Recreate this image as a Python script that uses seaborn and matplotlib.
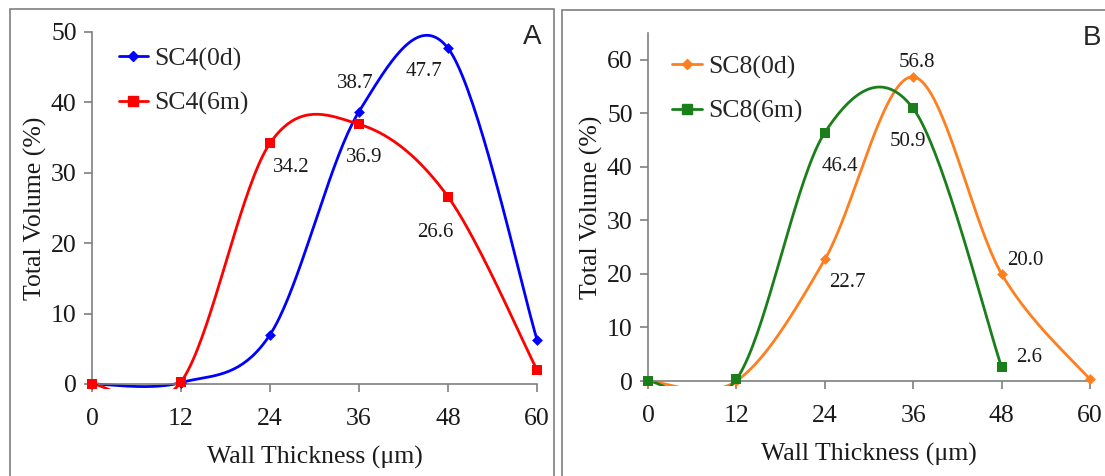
#!/usr/bin/env python
import numpy as np
import pandas as pd
import matplotlib
matplotlib.use("Agg")
import matplotlib.pyplot as plt
from matplotlib.lines import Line2D
from matplotlib.patches import Rectangle
import seaborn as sns

# wall thickness classes (um) and total volume (%)
thickness = [0, 12, 24, 36, 48, 60]
sc4_0d = [0.0, 0.2, 7.0, 38.7, 47.7, 6.3]
sc4_6m = [0.0, 0.3, 34.2, 36.9, 26.6, 2.0]
sc8_0d = [0.0, 0.0, 22.7, 56.8, 20.0, 0.3]
sc8_6m = [0.0, 0.3, 46.4, 50.9, 2.6]

# which points carry a value label, and pixel offsets for them
labels_a = {"SC4(0d)": {36: (-4, 28), 48: (-24, -23)},
            "SC4(6m)": {24: (21, -24), 36: (5, -33), 48: (-13, -36)}}
labels_b = {"SC8(0d)": {36: (4, 14), 24: (23, -23), 48: (24, 13)},
            "SC8(6m)": {24: (15, -34), 36: (-5, -33), 48: (28, 10)}}


def smooth(x, y, n=40):
    # excel style smoothed line (catmull-rom through the points)
    x = np.asarray(x, float)
    y = np.asarray(y, float)
    px = np.concatenate([[x[0]], x, [x[-1]]])
    py = np.concatenate([[y[0]], y, [y[-1]]])
    xs, ys = [], []
    t = np.linspace(0, 1, n)
    h00 = 2 * t**3 - 3 * t**2 + 1
    h10 = t**3 - 2 * t**2 + t
    h01 = -2 * t**3 + 3 * t**2
    h11 = t**3 - t**2
    for i in range(1, len(px) - 2):
        mx0 = (px[i + 1] - px[i - 1]) / 2
        mx1 = (px[i + 2] - px[i]) / 2
        my0 = (py[i + 1] - py[i - 1]) / 2
        my1 = (py[i + 2] - py[i]) / 2
        xs.append(h00 * px[i] + h10 * mx0 + h01 * px[i + 1] + h11 * mx1)
        ys.append(h00 * py[i] + h10 * my0 + h01 * py[i + 1] + h11 * my1)
    return np.concatenate(xs), np.concatenate(ys)


sns.set_style("white")
plt.rcParams["font.family"] = ["Liberation Serif", "DejaVu Serif"]

fig = plt.figure(figsize=(11.05, 4.76), dpi=100)

# panel frames
fig.patches.append(Rectangle((10 / 1105, -0.01), 544 / 1105, 1 - 9 / 476 + 0.01,
                             transform=fig.transFigure, fill=False,
                             edgecolor="#7f7f7f", lw=1.2))
fig.patches.append(Rectangle((562 / 1105, -0.01), 560 / 1105, 1 - 10 / 476 + 0.01,
                             transform=fig.transFigure, fill=False,
                             edgecolor="#7f7f7f", lw=1.2))

ax_a = fig.add_axes([92 / 1105, 1 - 384 / 476, 445 / 1105, 352 / 476])
ax_b = fig.add_axes([648 / 1105, 1 - 381 / 476, 442 / 1105, 348 / 476])

panels = [
    (ax_a, "A", 50, [("SC4(0d)", sc4_0d, "#0000ff", "D", 5.5),
                     ("SC4(6m)", sc4_6m, "#ff0000", "s", 7)], labels_a,
     (0.025, 1.0), (1.01, 0.985)),
    (ax_b, "B", 65, [("SC8(0d)", sc8_0d, "#ff7f1f", "D", 5.5),
                     ("SC8(6m)", sc8_6m, "#1a7f1a", "s", 6.5)], labels_b,
     (0.02, 0.98), (1.025, 0.985)),
]

for ax, letter, ymax, series, lab, leg_pos, let_pos in panels:
    handles = []
    # let the smoothed lines show a few pixels below the zero line
    clip = Rectangle((0, -0.013), 1.0, 1.013, transform=ax.transAxes,
                     visible=False)
    ax.add_patch(clip)
    for name, vals, color, marker, ms in series:
        x = thickness[:len(vals)]
        sx, sy = smooth(x, vals)
        ln, = ax.plot(sx, sy, color=color, lw=2)
        ln.set_clip_path(clip)
        df = pd.DataFrame({"x": x, "y": vals})
        sns.scatterplot(data=df, x="x", y="y", ax=ax, color=color, marker=marker,
                        s=ms**2, edgecolor=color, linewidth=0, clip_on=False,
                        zorder=5)
        for xv, (dx, dy) in lab[name].items():
            yv = vals[thickness.index(xv)]
            ax.annotate(f"{yv:.1f}", (xv, yv), xytext=(dx * 0.72, dy * 0.72),
                        textcoords="offset points", ha="center", va="center",
                        fontsize=15, color="#1a1a1a")
        handles.append(Line2D([], [], color=color, lw=2, marker=marker,
                              markersize=ms, label=name))
    ax.set_xlim(0, 60)
    ax.set_ylim(0, ymax)
    ax.set_xticks(thickness)
    ax.set_yticks(range(0, ymax + 1, 10))
    for s in ["top", "right"]:
        ax.spines[s].set_visible(False)
    for s in ["left", "bottom"]:
        ax.spines[s].set_color("#7f7f7f")
        ax.spines[s].set_linewidth(1.2)
    ax.tick_params(axis="both", direction="out", length=6, width=1.2,
                   color="#7f7f7f", labelsize=18.5, labelcolor="#1a1a1a",
                   left=True, bottom=True)
    ax.tick_params(axis="x", pad=11)
    ax.tick_params(axis="y", pad=5)
    ax.set_xlabel("Wall Thickness (\u03bcm)", fontsize=18.5, color="#1a1a1a",
                  labelpad=12)
    ax.set_ylabel("Total Volume (%)", fontsize=18.5, color="#1a1a1a",
                  labelpad=3)
    ax.legend(handles=handles, loc="upper left", bbox_to_anchor=leg_pos,
              frameon=False, fontsize=18.5, handlelength=1.15,
              handletextpad=0.25, labelspacing=0.82, borderaxespad=0.2)
    ax.text(let_pos[0], let_pos[1], letter, transform=ax.transAxes, ha="right",
            va="center", fontsize=20, family=["Liberation Sans", "DejaVu Sans"])

fig.savefig("out.png", dpi=100)
